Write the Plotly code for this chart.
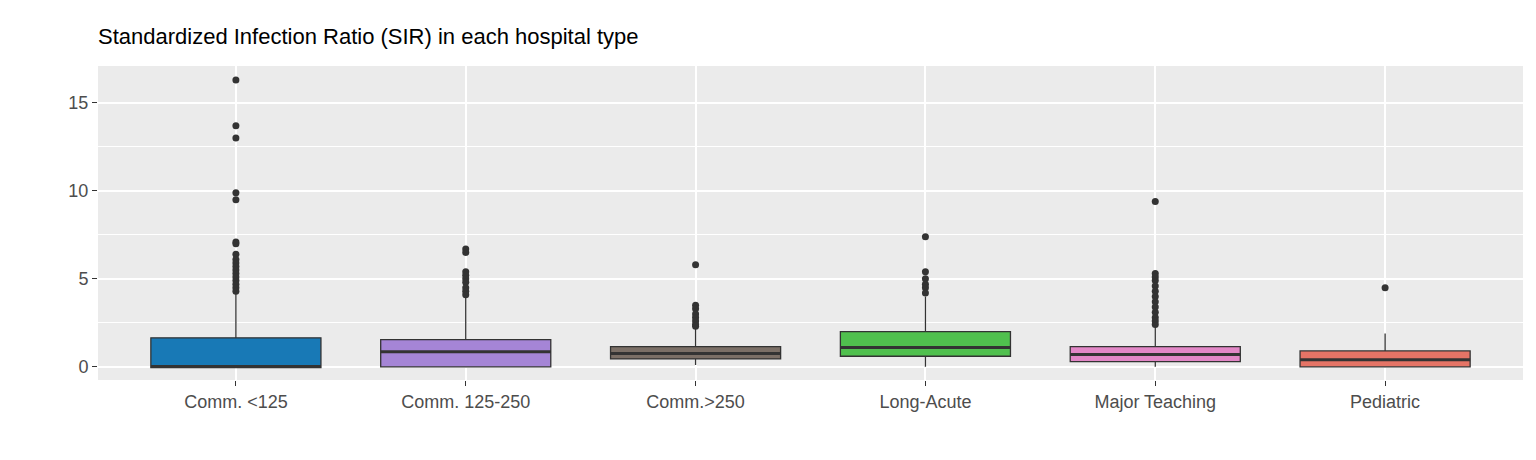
import plotly.graph_objects as go

# ---- data ----
types = ["Comm. <125", "Comm. 125-250", "Comm.>250", "Long-Acute", "Major Teaching", "Pediatric"]
colors = ["#1879B6", "#A585D6", "#7B6F66", "#50C04E", "#E287C6", "#E57466"]
q1 = [-0.05, 0.0, 0.45, 0.6, 0.3, 0.0]
median = [0.02, 0.85, 0.75, 1.1, 0.7, 0.4]
q3 = [1.65, 1.55, 1.15, 2.0, 1.15, 0.9]
lower = [-0.05, 0.0, 0.1, 0.0, 0.0, 0.0]
upper = [4.2, 4.0, 2.2, 4.0, 2.4, 1.9]
outliers = [
    [16.3, 13.7, 13.0, 9.9, 9.5, 7.1, 7.0, 6.4, 6.1, 5.9, 5.7, 5.5, 5.3, 5.1, 4.9, 4.7, 4.5, 4.3],
    [6.7, 6.5, 5.4, 5.2, 5.0, 4.8, 4.5, 4.3, 4.1],
    [5.8, 3.5, 3.3, 3.0, 2.8, 2.6, 2.4, 2.3],
    [7.4, 5.4, 5.0, 4.7, 4.5, 4.2],
    [9.4, 5.3, 5.1, 4.9, 4.6, 4.3, 4.0, 3.7, 3.4, 3.1, 2.8, 2.6, 2.4],
    [4.5],
]

BOXW = 0.74
fig = go.Figure()
for i, t in enumerate(types):
    fig.add_trace(go.Box(
        x=[i], q1=[q1[i]], median=[median[i]], q3=[q3[i]],
        lowerfence=[lower[i]], upperfence=[upper[i]],
        width=BOXW, fillcolor=colors[i], boxpoints=False,
        line=dict(color="#333333", width=1.3), whiskerwidth=0,
        showlegend=False, hoverinfo="skip"))
    # thick median bar like ggplot
    fig.add_trace(go.Scatter(
        x=[i - BOXW / 2, i + BOXW / 2], y=[median[i], median[i]], mode="lines",
        line=dict(color="#333333", width=3), showlegend=False, hoverinfo="skip"))
    fig.add_trace(go.Scatter(
        x=[i] * len(outliers[i]), y=outliers[i], mode="markers",
        marker=dict(color="#333333", size=7), showlegend=False))

fig.update_layout(
    width=1536, height=460,
    margin=dict(l=90, r=21, t=58, b=88, autoexpand=False),
    paper_bgcolor="white", plot_bgcolor="#EBEBEB",
    font=dict(family="Liberation Sans, Arial", size=18, color="#4D4D4D"),
    title=dict(text="Standardized Infection Ratio (SIR) in each hospital type",
               x=90 / 1536, xref="container", xanchor="left", y=28 / 460,
               yref="container", yanchor="middle",
               font=dict(size=22, color="black")),
)
fig.update_layout(title_y=1 - 28 / 460)
fig.update_xaxes(
    tickmode="array", tickvals=list(range(len(types))), ticktext=types,
    range=[-0.6, len(types) - 0.4], showgrid=True, gridcolor="white", gridwidth=1.5,
    zeroline=False, ticks="outside", ticklen=5, tickcolor="#333333", automargin=False)
fig.update_yaxes(
    range=[-0.75, 17.1], tickvals=[0, 5, 10, 15], showgrid=True, gridcolor="white",
    gridwidth=1.5, zeroline=False, ticks="outside", ticklen=5, tickcolor="#333333",
    automargin=False,
    minor=dict(tickvals=[2.5, 7.5, 12.5], showgrid=True, gridcolor="white", gridwidth=0.7, ticks=""))

fig.write_html("out.html")
